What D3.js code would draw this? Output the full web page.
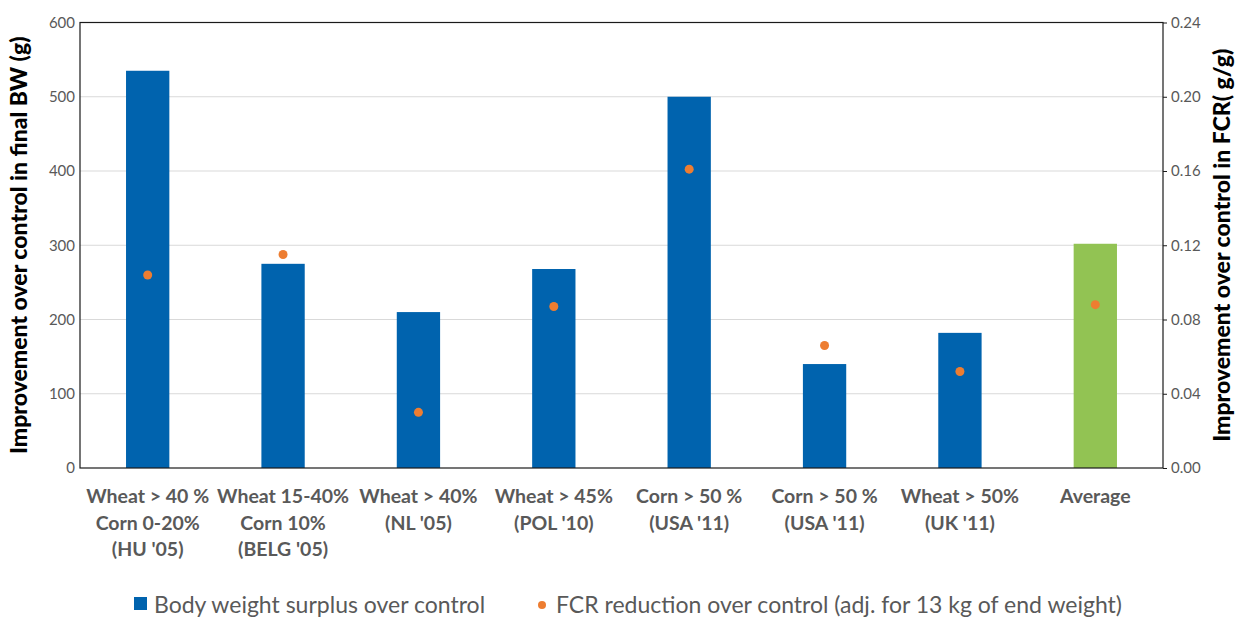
<!DOCTYPE html>
<html><head><meta charset="utf-8">
<script src="https://cdn.jsdelivr.net/npm/d3@7"></script>
<style>body{margin:0;background:#fff;} svg{display:block;font-family:Lato,"Open Sans",sans-serif;}</style>
</head><body>
<svg id="chart" width="1242" height="619"></svg>
<script>
const categories = [
  ["Wheat > 40 %","Corn 0-20%","(HU '05)"],
  ["Wheat 15-40%","Corn 10%","(BELG '05)"],
  ["Wheat > 40%","(NL '05)"],
  ["Wheat > 45%","(POL '10)"],
  ["Corn > 50 %","(USA '11)"],
  ["Corn > 50 %","(USA '11)"],
  ["Wheat > 50%","(UK '11)"],
  ["Average"]
];
const bwSurplus = [535, 275, 210, 268, 500, 140, 182, 302];
const fcrReduction = [0.104, 0.115, 0.030, 0.087, 0.161, 0.066, 0.052, 0.088];
const leftTicks = [0,100,200,300,400,500,600];
const rightTicks = [0,0.04,0.08,0.12,0.16,0.20,0.24];
const legendLabels = ["Body weight surplus over control","FCR reduction over control (adj. for 13 kg of end weight)"];
const leftTitle = "Improvement over control  in final BW (g)";
const rightTitle = "Improvement over control in FCR( g/g)";

const svg = d3.select("#chart");
const m = {l:80, r:1163, t:22.5, b:468};
const ids = categories.map((c,i)=>i);
const x = d3.scaleBand().domain(ids).range([m.l, m.r]).paddingInner(0.68).paddingOuter(0.34);
const yL = d3.scaleLinear().domain([0,600]).range([m.b, m.t]);
const yR = d3.scaleLinear().domain([0,0.24]).range([m.b, m.t]);

svg.append("g").selectAll("line").data(leftTicks.slice(1,-1)).join("line")
  .attr("x1",m.l).attr("x2",m.r).attr("y1",d=>yL(d)).attr("y2",d=>yL(d))
  .attr("stroke","#d9d9d9").attr("stroke-width",1);

svg.append("g").selectAll("rect").data(bwSurplus).join("rect")
  .attr("x",(d,i)=>x(i)).attr("width",x.bandwidth())
  .attr("y",d=>yL(d)).attr("height",d=>m.b-yL(d))
  .attr("fill",(d,i)=>i===categories.length-1?"#92c353":"#0063ae");

svg.append("g").selectAll("circle").data(fcrReduction).join("circle")
  .attr("cx",(d,i)=>x(i)+x.bandwidth()/2).attr("cy",d=>yR(d)).attr("r",4.5)
  .attr("fill","#ed7d31");

svg.append("rect").attr("x",m.l).attr("y",m.t).attr("width",m.r-m.l).attr("height",m.b-m.t)
  .attr("fill","none").attr("stroke","#1a1a1a").attr("stroke-width",1.2);

const la = svg.append("g").attr("transform",`translate(${m.l},0)`)
  .call(d3.axisLeft(yL).tickValues(leftTicks).tickSize(0).tickPadding(5).tickFormat(d3.format("d")));
la.select(".domain").remove();
la.selectAll("text").attr("font-size",15).attr("fill","#595959").attr("font-family","Lato,'Open Sans',sans-serif");

const ra = svg.append("g").attr("transform",`translate(${m.r},0)`)
  .call(d3.axisRight(yR).tickValues(rightTicks).tickSize(4).tickPadding(4).tickFormat(d3.format(".2f")));
ra.select(".domain").remove();
ra.selectAll("line").attr("stroke","#1a1a1a");
ra.selectAll("text").attr("font-size",15).attr("fill","#595959").attr("font-family","Lato,'Open Sans',sans-serif");

const xl = svg.append("g").selectAll("text").data(categories).join("text")
  .attr("x",(d,i)=>x(i)+x.bandwidth()/2).attr("y",503)
  .attr("text-anchor","middle").attr("font-size",19.5).attr("font-weight","bold").attr("fill","#595959");
xl.selectAll("tspan").data(d=>d).join("tspan")
  .attr("x",function(){return this.parentNode.getAttribute("x");})
  .attr("dy",(d,j)=>j===0?0:26.5).text(d=>d);

svg.append("text").attr("transform",`translate(27,${(m.t+m.b)/2}) rotate(-90)`)
  .attr("text-anchor","middle").attr("font-size",23).attr("font-weight","900").attr("fill","#000").text(leftTitle);
svg.append("text").attr("transform",`translate(1230,${(m.t+m.b)/2}) rotate(-90)`)
  .attr("text-anchor","middle").attr("font-size",23).attr("font-weight","900").attr("fill","#000").text(rightTitle);

const lg = svg.append("g");
lg.append("rect").attr("x",134).attr("y",597).attr("width",13).attr("height",13).attr("fill","#0063ae");
lg.append("text").attr("x",154).attr("y",613).attr("font-size",23).attr("fill","#595959").text(legendLabels[0]);
lg.append("circle").attr("cx",542).attr("cy",605).attr("r",4).attr("fill","#ed7d31");
lg.append("text").attr("x",556).attr("y",613).attr("font-size",23).attr("fill","#595959").text(legendLabels[1]);
</script>
</body></html>
